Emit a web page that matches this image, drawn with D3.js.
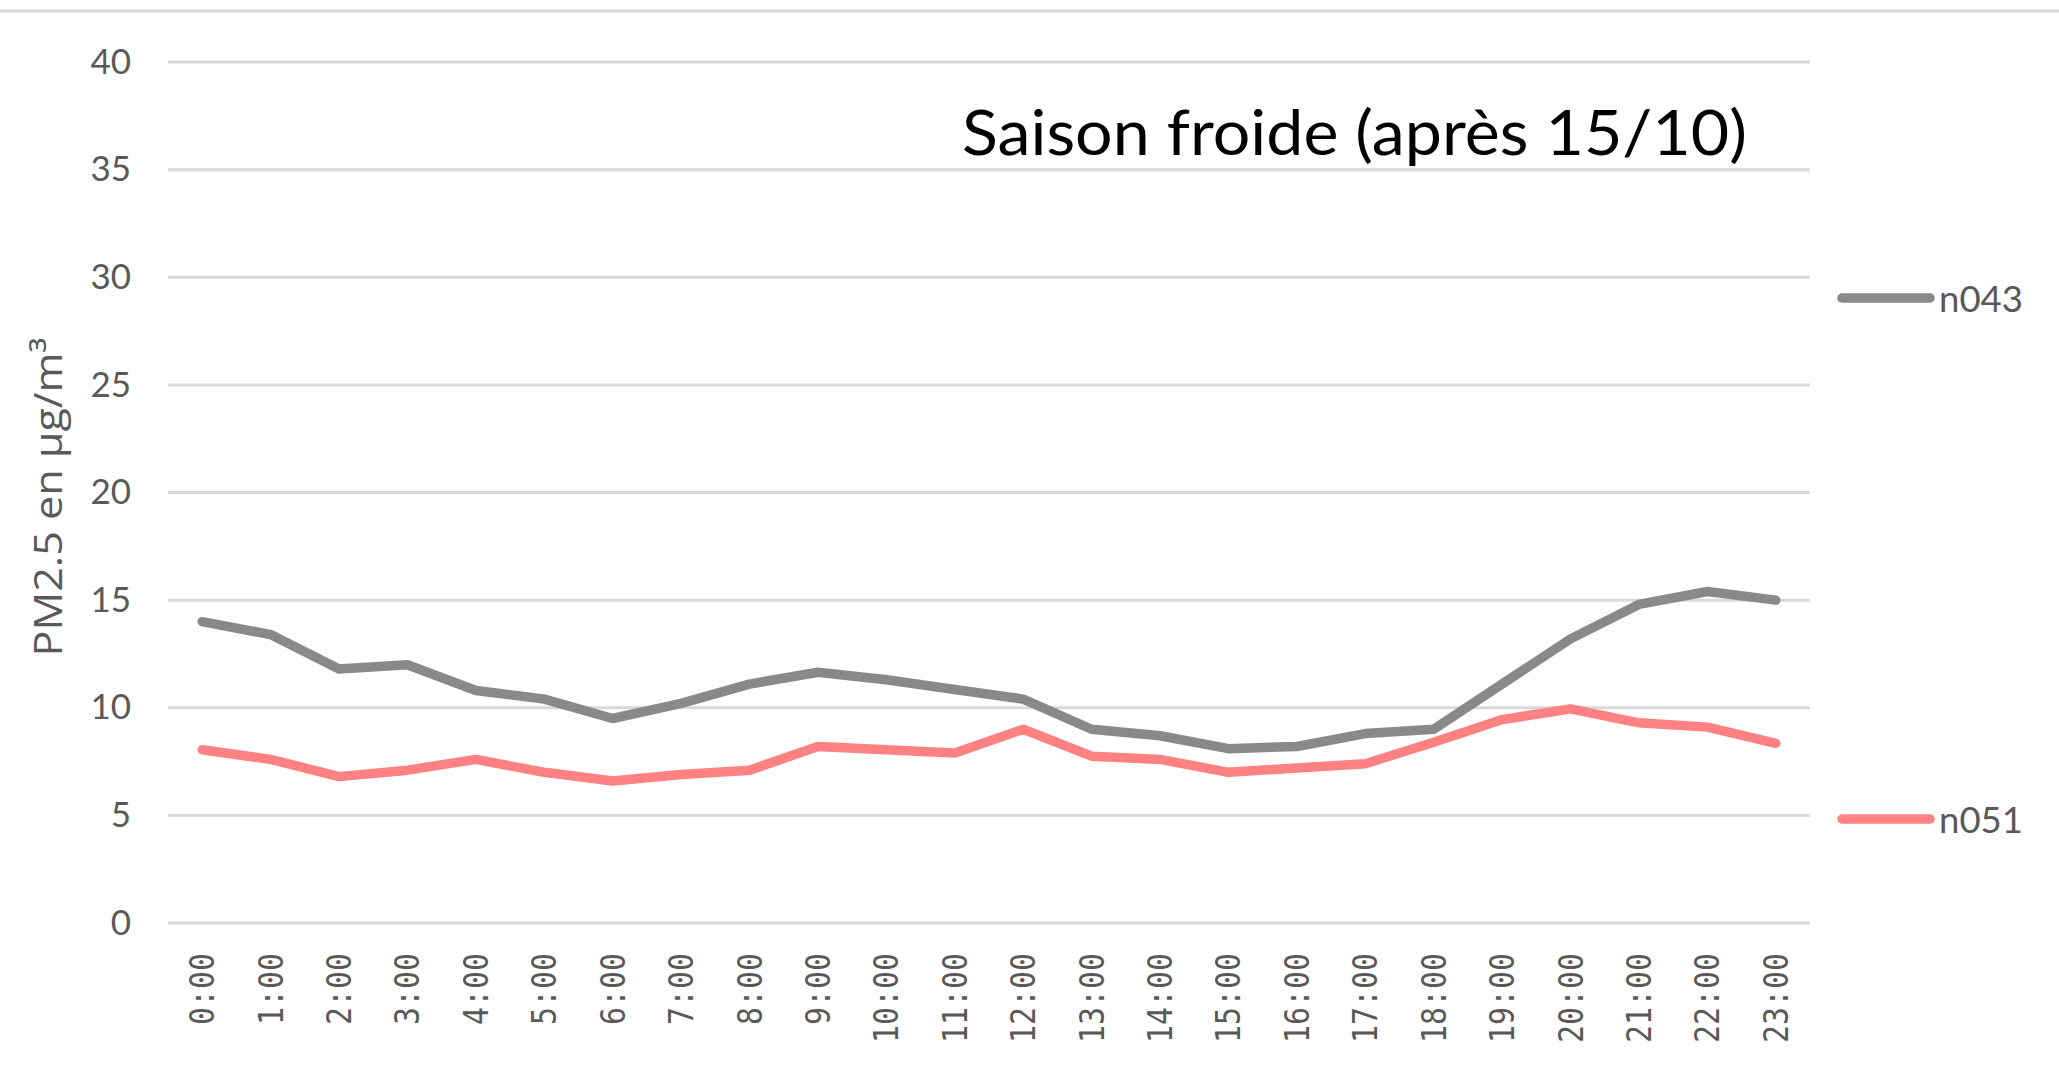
<!DOCTYPE html>
<html>
<head>
<meta charset="utf-8">
<script src="https://cdn.jsdelivr.net/npm/d3@7"></script>
<style>
  html, body { margin: 0; padding: 0; background: #ffffff; }
  svg { display: block; }
</style>
</head>
<body>
<script>
const hours = ["0:00","1:00","2:00","3:00","4:00","5:00","6:00","7:00","8:00","9:00","10:00","11:00",
               "12:00","13:00","14:00","15:00","16:00","17:00","18:00","19:00","20:00","21:00","22:00","23:00"];
const n043 = [14.0,13.4,11.8,12.0,10.8,10.4,9.5,10.2,11.1,11.65,11.3,10.85,10.4,9.0,8.7,8.1,8.2,8.8,9.0,11.1,13.2,14.8,15.4,15.0];
const n051 = [8.05,7.6,6.8,7.1,7.6,7.0,6.6,6.9,7.1,8.2,8.05,7.9,9.0,7.75,7.6,7.0,7.2,7.4,8.4,9.45,9.95,9.3,9.1,8.35];
const yTicks = [0,5,10,15,20,25,30,35,40];
const seriesNames = ["n043","n051"];
const seriesColors = ["#898989","#FF8181"];
const titleText = "Saison froide (après 15/10)";
const yTitle = "PM2.5 en µg/m³";

const W = 2059, H = 1072;
const svg = d3.select("body").append("svg").attr("width", W).attr("height", H);

const x = d3.scaleBand().domain(hours).range([168, 1810]);
const y = d3.scaleLinear().domain([0, 40]).range([923, 62]);
const cx = h => x(h) + x.bandwidth() / 2;

// top border
svg.append("line").attr("x1", 0).attr("x2", W).attr("y1", 11).attr("y2", 11)
  .attr("stroke", "#d9d9d9").attr("stroke-width", 3);

// gridlines
svg.append("g").selectAll("line").data(yTicks).join("line")
  .attr("x1", 168).attr("x2", 1810)
  .attr("y1", d => y(d)).attr("y2", d => y(d))
  .attr("stroke", "#d9d9d9").attr("stroke-width", 3);

// y tick labels via axis
const yAxis = svg.append("g").attr("transform", "translate(168,0)")
  .call(d3.axisLeft(y).tickValues(yTicks).tickSize(0).tickPadding(37));
yAxis.select(".domain").remove();
yAxis.selectAll("text").attr("font-family", "Lato, 'Open Sans', sans-serif")
  .attr("font-size", 35).attr("fill", "#595959");

// x tick labels
const xAxis = svg.append("g").attr("transform", "translate(0,923)")
  .call(d3.axisBottom(x).tickSize(0));
xAxis.select(".domain").remove();
xAxis.selectAll("text")
  .attr("font-family", "'DejaVu Sans Mono', 'Liberation Mono', monospace")
  .attr("font-size", 34).attr("fill", "#595959")
  .attr("text-anchor", "end").attr("dy", null).attr("y", 0)
  .attr("textLength", d => d.length * 18).attr("lengthAdjust", "spacingAndGlyphs")
  .attr("transform", "translate(0,30) rotate(-90)")
  .attr("dominant-baseline", "central");

// y title
svg.append("text").attr("transform", "translate(47,497) rotate(-90)")
  .attr("text-anchor", "middle").attr("dominant-baseline", "central")
  .attr("font-family", "'Open Sans', sans-serif").attr("font-size", 38)
  .attr("textLength", 319).attr("lengthAdjust", "spacingAndGlyphs")
  .attr("fill", "#595959").text(yTitle);

// lines
const line = d3.line().x((d, i) => cx(hours[i])).y(d => y(d));
[n043, n051].forEach((s, i) => {
  svg.append("path").datum(s).attr("d", line).attr("fill", "none")
    .attr("stroke", seriesColors[i]).attr("stroke-width", 9.5)
    .attr("stroke-linejoin", "round").attr("stroke-linecap", "round");
});

// legend: placed next to each series' level
const legendY = [298, 819];
seriesNames.forEach((n, i) => {
  svg.append("line").attr("x1", 1842).attr("x2", 1930)
    .attr("y1", legendY[i]).attr("y2", legendY[i])
    .attr("stroke", seriesColors[i]).attr("stroke-width", 9.5).attr("stroke-linecap", "round");
  svg.append("text").attr("x", 1939).attr("y", legendY[i]).attr("dominant-baseline", "central")
    .attr("font-family", "Lato, 'Open Sans', sans-serif").attr("font-size", 36)
    .attr("textLength", 84).attr("lengthAdjust", "spacingAndGlyphs")
    .attr("fill", "#595959").text(n);
});

// chart title
svg.append("text").attr("x", 962).attr("y", 155)
  .attr("font-family", "Lato, 'Open Sans', sans-serif").attr("font-size", 62)
  .attr("fill", "#000").attr("textLength", 785).attr("lengthAdjust", "spacingAndGlyphs")
  .text(titleText);
</script>
</body>
</html>
